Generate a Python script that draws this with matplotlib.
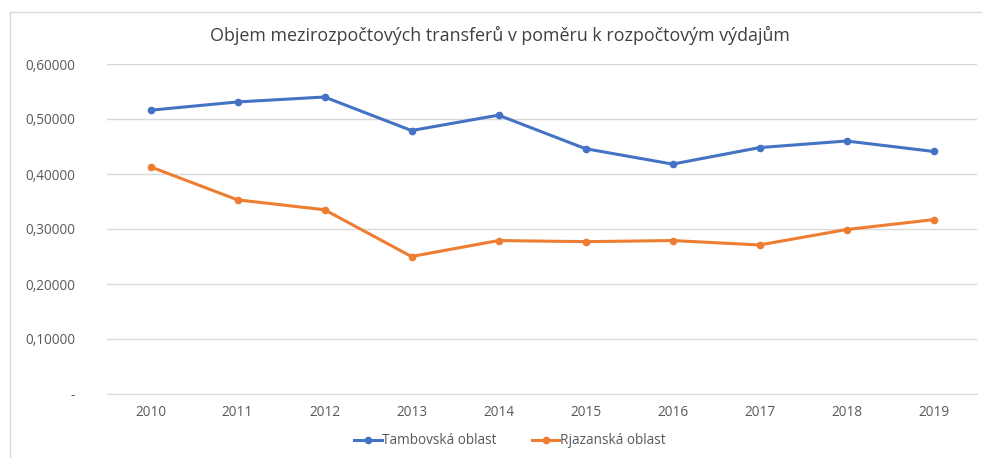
import matplotlib.pyplot as plt
from matplotlib.lines import Line2D
from matplotlib.ticker import FuncFormatter

years = ['2010', '2011', '2012', '2013', '2014', '2015', '2016', '2017', '2018', '2019']
tambov = [0.516, 0.531, 0.540, 0.479, 0.507, 0.446, 0.418, 0.448, 0.460, 0.441]
rjazan = [0.413, 0.353, 0.335, 0.250, 0.279, 0.277, 0.279, 0.271, 0.299, 0.317]
title = 'Objem mezirozpočtových transferů v poměru k rozpočtovým výdajům'

plt.rcParams['font.family'] = ['Open Sans', 'DejaVu Sans']
W, H = 982, 458
fig = plt.figure(figsize=(W / 100, H / 100), dpi=100)
ax = fig.add_axes([107 / W, 1 - 394 / H, (977 - 107) / W, (394 - 64) / H])

x = range(len(years))
ax.plot(x, tambov, color='#4472C4', lw=2.2, marker='o', ms=4.5, label='Tambovská oblast')
ax.plot(x, rjazan, color='#ED7D31', lw=2.2, marker='o', ms=4.5, label='Rjazanská oblast')

ax.set_xlim(-0.5, len(years) - 0.5)
ax.set_ylim(0, 0.6)
ax.set_yticks([0, 0.1, 0.2, 0.3, 0.4, 0.5, 0.6])
ax.yaxis.set_major_formatter(FuncFormatter(
    lambda v, p: '-' if abs(v) < 1e-9 else f'{v:.5f}'.replace('.', ',')))
ax.set_xticks(list(x))
ax.set_xticklabels(years)
ax.grid(axis='y', color='#d9d9d9', lw=1)
ax.set_axisbelow(True)
for s in ['top', 'right', 'left']:
    ax.spines[s].set_visible(False)
ax.spines['bottom'].set_color('#d9d9d9')
ax.tick_params(length=0, labelsize=9.8, colors='#595959')
ax.tick_params(axis='y', pad=23)
ax.tick_params(axis='x', pad=8)

fig.text(500 / W, 1 - 35 / H, title, ha='center', va='center', fontsize=12.9, color='#404040')
fig.legend(loc='center', bbox_to_anchor=(510 / W, 1 - 441 / H), ncol=2, frameon=False,
           fontsize=9.8, labelcolor='#595959', handlelength=2.0, handletextpad=0.05,
           columnspacing=2.6)

# chart frame
fig.add_artist(Line2D([10 / W, 10 / W], [0, 1 - 12 / H], color='#d9d9d9', lw=1))
fig.add_artist(Line2D([10 / W, 1], [1 - 12 / H, 1 - 12 / H], color='#d9d9d9', lw=1))

fig.savefig('out.png', dpi=100, facecolor='white')
